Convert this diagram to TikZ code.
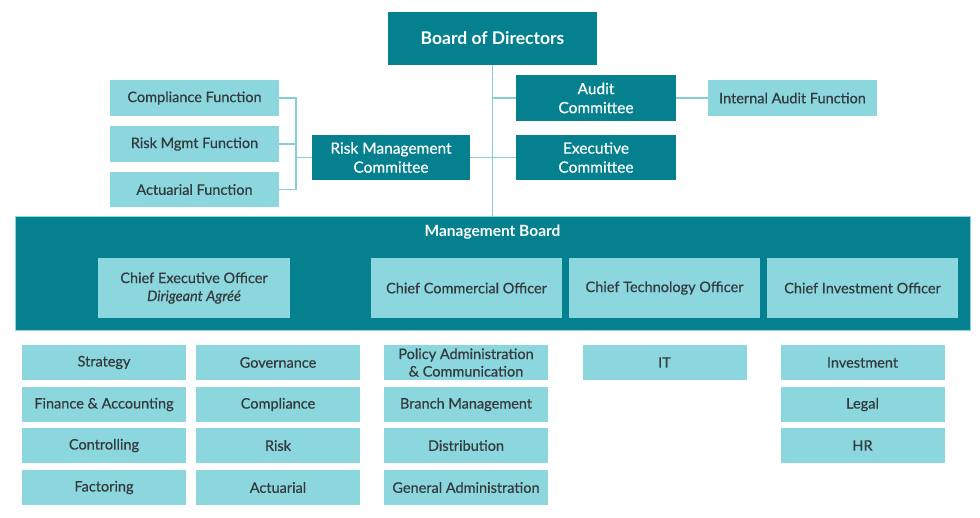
\documentclass[tikz,border=0pt]{standalone}
\usepackage{fontspec}
\setmainfont{Lato}
\newfontfamily\medfont[FakeBold=0.5]{Lato}
\definecolor{dteal}{HTML}{05808F}
\definecolor{lteal}{HTML}{8CD6DD}
\definecolor{ltxt}{HTML}{333B3E}
\definecolor{lline}{HTML}{85CDD5}
\begin{document}
\begin{tikzpicture}[x=1pt,y=-1pt,
  dbox/.style={fill=dteal, text=white, inner sep=0pt, align=center, font=\medfont\fontsize{15.5}{19}\selectfont},
  lbox/.style={fill=lteal, text=ltxt, inner sep=0pt, align=center, font=\medfont\fontsize{14.5}{18}\selectfont},
  bot/.style={lbox, minimum width=164, minimum height=35},
  off/.style={lbox, minimum width=191, minimum height=60},
  conn/.style={draw=lline, line width=1.8pt}]
\useasboundingbox (0,0) rectangle (980,517);
% top part
\node[dbox, minimum width=209, minimum height=53, font=\fontsize{17.5}{20}\selectfont\bfseries] (bod) at (492.5,38.5) {Board of Directors};
\node[lbox, minimum width=169, minimum height=36] (comp) at (194.5,98) {Compliance Function};
\node[lbox, minimum width=169, minimum height=36] (rmf) at (194.5,144) {Risk Mgmt Function};
\node[lbox, minimum width=169, minimum height=35] (act) at (194.5,189.5) {Actuarial Function};
\node[dbox, minimum width=158, minimum height=45] (rmc) at (391,157.5) {Risk Management\\Committee};
\node[dbox, minimum width=160, minimum height=46] (audit) at (596,98) {Audit\\Committee};
\node[dbox, minimum width=160, minimum height=45] (exec) at (596,157.5) {Executive\\Committee};
\node[lbox, minimum width=169, minimum height=36] (iaf) at (792.5,98) {Internal Audit Function};
% management board
\node[fill=dteal, draw=lteal, line width=1pt, minimum width=955, minimum height=114, inner sep=0pt] (mb) at (492.5,273) {};
\node[text=white, font=\fontsize{15.5}{17}\selectfont\bfseries, inner sep=0pt] (mbt) at (492.5,232) {Management Board};
\node[off, minimum width=192] (ceo) at (194,288) {Chief Executive Officer\\\textit{Dirigeant Agréé}};
\node[off] (cco) at (466.5,288) {Chief Commercial Officer};
\node[off] (cto) at (664.5,288) {Chief Technology Officer};
\node[off] (cio) at (862.5,288) {Chief Investment Officer};
% bottom boxes
\node[bot] (s1) at (104,362.5) {Strategy};
\node[bot] (s2) at (104,404.5) {Finance \& Accounting};
\node[bot] (s3) at (104,445.5) {Controlling};
\node[bot] (s4) at (104,487.5) {Factoring};
\node[bot] (g1) at (278,362.5) {Governance};
\node[bot] (g2) at (278,404.5) {Compliance};
\node[bot] (g3) at (278,445.5) {Risk};
\node[bot] (g4) at (278,487.5) {Actuarial};
\node[bot, font=\medfont\fontsize{14.5}{17.5}\selectfont] (p1) at (466,362.5) {Policy Administration\\\& Communication};
\node[bot] (p2) at (466,404.5) {Branch Management};
\node[bot] (p3) at (466,445.5) {Distribution};
\node[bot] (p4) at (466,487.5) {General Administration};
\node[bot] (it) at (664.5,362.5) {IT};
\node[bot] (i1) at (862.5,362.5) {Investment};
\node[bot] (i2) at (862.5,404.5) {Legal};
\node[bot] (i3) at (862.5,445.5) {HR};
% connectors
\coordinate (brk) at (296,157.5);
\draw[conn] (bod.south) -- (mb.north);
\draw[conn] (comp.east) -| (brk);
\draw[conn] (rmf.east) -| (brk);
\draw[conn] (act.east) -| (brk);
\draw[conn] (brk) -- (rmc.west);
\draw[conn] (rmc.east) -- (exec.west);
\draw[conn] (audit.west) -- (audit.west -| bod.south);
\draw[conn] (audit.east) -- (iaf.west);
\end{tikzpicture}
\end{document}
